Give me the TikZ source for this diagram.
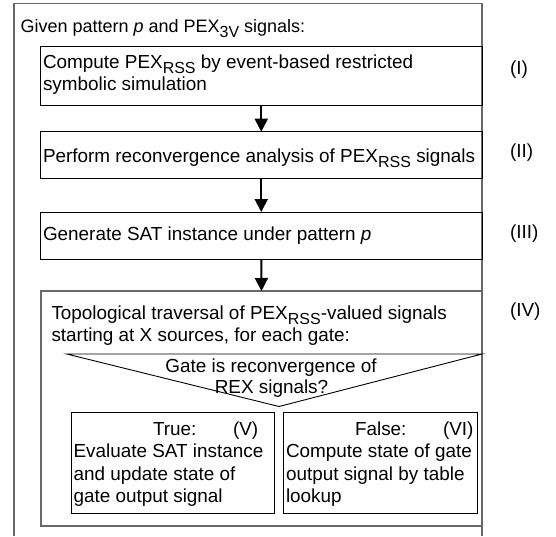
\documentclass[tikz,border=0pt]{standalone}
\usepackage{fontspec}
\setmainfont{Liberation Sans}
\usetikzlibrary{arrows.meta}
\newcommand{\sbx}[1]{\raisebox{-5pt}{\fontsize{16}{16}\selectfont #1}}
\definecolor{framegray}{RGB}{105,105,105}
\begin{document}
\begin{tikzpicture}[x=1pt,y=-1pt,
  every node/.style={font=\fontsize{18.9}{22}\selectfont, inner sep=0pt, outer sep=0pt},
  box/.style={draw=black, line width=1pt, rectangle, anchor=north west},
  gbox/.style={draw=framegray, line width=1.4pt, rectangle, anchor=north west},
  txt/.style={anchor=base west},
  ctxt/.style={anchor=base},
  lab/.style={anchor=west},
  arr/.style={draw=black, line width=2pt, -{Triangle[width=13pt,length=13pt]}}]
\useasboundingbox (0,0) rectangle (556,536);
% outer frame (open at the bottom)
\draw[framegray, line width=1.4pt] (14,536) -- (14,3.5) -- (482,3.5) -- (482,536);
\node[txt, font=\fontsize{18}{22}\selectfont] (t0) at (20.5,32) {Given pattern \textit{p} and PEX\sbx{3V} signals:};
% box I
\node[box, minimum width=441.5pt, minimum height=58.3pt] (b1) at (40.5,46.7) {};
\node[txt] (t1a) at (43,68.3) {Compute PEX\sbx{RSS} by event-based restricted};
\node[txt] (t1b) at (43,90.5) {symbolic simulation};
\node[lab] (l1) at (510,70) {(I)};
% box II
\node[box, minimum width=441.5pt, minimum height=46.3pt] (b2) at (40.5,131.7) {};
\node[txt] (t2) at (43,162) {Perform reconvergence analysis of PEX\sbx{RSS} signals};
\node[lab] (l2) at (510,153) {(II)};
% box III
\node[box, minimum width=441.5pt, minimum height=47pt] (b3) at (40.5,212) {};
\node[txt] (t3) at (43,240) {Generate SAT instance under pattern \textit{p}};
\node[lab] (l3) at (510,234) {(III)};
% box IV
\node[gbox, minimum width=441pt, minimum height=235pt] (b4) at (41,291) {};
\node[txt] (t4a) at (51.5,319) {Topological traversal of PEX\sbx{RSS}-valued signals};
\node[txt] (t4b) at (51.5,341) {starting at X sources, for each gate:};
\node[lab] (l4) at (510,312) {(IV)};
% decision triangle
\coordinate (tl) at (66.7,354);
\coordinate (tr) at (482,354);
\coordinate (tb) at (279,406.5);
\draw[black, line width=0.9pt] (tl) -- (tr) -- (tb) -- cycle;
\node[ctxt] (q1) at (271,372) {Gate is reconvergence of};
\node[ctxt] (q2) at (271.5,393.5) {REX signals?};
% box V
\node[box, minimum width=202.3pt, minimum height=101.5pt] (b5) at (71.7,412) {};
\node[txt] (t5h) at (153,435.5) {True:};
\node[txt] (t5n) at (233,435.5) {(V)};
\node[txt] (t5a) at (73.5,457.5) {Evaluate SAT instance};
\node[txt] (t5b) at (73.5,480) {and update state of};
\node[txt] (t5c) at (73.5,502.5) {gate output signal};
% box VI
\node[box, minimum width=194pt, minimum height=101.5pt] (b6) at (283,412) {};
\node[txt] (t6h) at (355,435.5) {False:};
\node[txt] (t6n) at (443,435.5) {(VI)};
\node[txt] (t6a) at (286,457.5) {Compute state of gate};
\node[txt] (t6b) at (286,480) {output signal by table};
\node[txt] (t6c) at (286,502.5) {lookup};
% arrows
\draw[arr] (b1.south) -- (b2.north);
\draw[arr] (b2.south) -- (b3.north);
\draw[arr] (b3.south) -- (b4.north);
\end{tikzpicture}
\end{document}
